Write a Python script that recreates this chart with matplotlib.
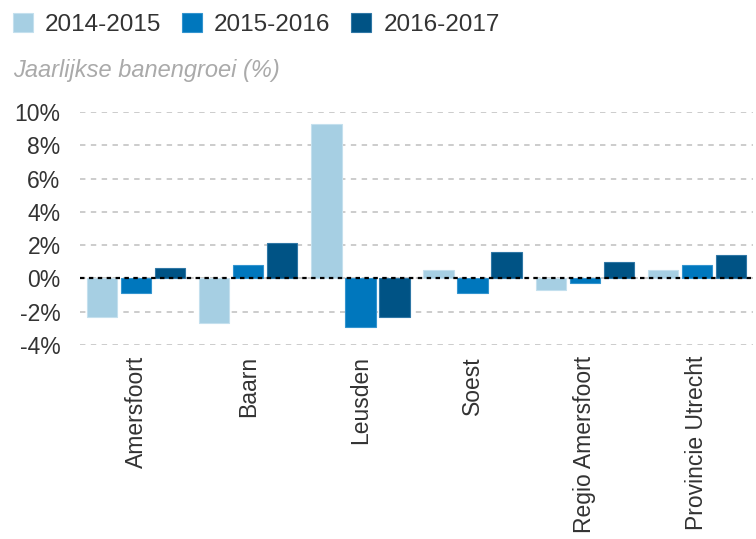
import matplotlib
matplotlib.use('Agg')
import matplotlib.pyplot as plt
import numpy as np
from matplotlib.ticker import FuncFormatter

plt.rcParams['font.family'] = ['Liberation Sans', 'DejaVu Sans']

# data (jaarlijkse banengroei in %)
regios = ['Amersfoort', 'Baarn', 'Leusden', 'Soest', 'Regio Amersfoort', 'Provincie Utrecht']
jaren = ['2014-2015', '2015-2016', '2016-2017']
groei_1415 = [-2.3, -2.7, 9.3, 0.5, -0.7, 0.5]
groei_1516 = [-0.9, 0.8, -2.9, -0.9, -0.3, 0.8]
groei_1617 = [0.6, 2.1, -2.3, 1.6, 1.0, 1.4]
kleuren = ['#a6cfe3', '#0077bd', '#005385']
randen = ['#c4e0ee', '#3394cf', '#2f77a5']

fig = plt.figure(figsize=(7.56, 5.39), dpi=100)
ax = fig.add_axes([80/756, 1 - 345/539, 673/756, 233/539])

x = np.arange(len(regios))
breedte = 0.27
stap = 0.303
for i, (serie, kleur, rand) in enumerate(zip([groei_1415, groei_1516, groei_1617], kleuren, randen)):
    ax.bar(x + (i - 1) * stap, serie, breedte, color=kleur, edgecolor=rand,
           linewidth=0.8, label=jaren[i], zorder=2)

ax.set_xlim(-0.5, len(regios) - 0.5)
ax.set_ylim(-4, 10)
ax.set_yticks(np.arange(-4, 11, 2))
ax.yaxis.set_major_formatter(FuncFormatter(lambda v, p: f'{v:.0f}%'))
ax.set_xticks(x)
ax.set_xticklabels(regios, rotation=90, ha='center', va='top')
ax.tick_params(axis='both', length=0, colors='#333333')
ax.tick_params(axis='y', pad=14, labelsize=16.5)
ax.tick_params(axis='x', pad=8, labelsize=16.5)

ax.grid(axis='y', color='#c8c8c8', linestyle=(0, (3, 3)), linewidth=1.3, zorder=0)
ax.axhline(0, color='black', linestyle=(0, (2, 2)), linewidth=1.6, zorder=3)
for s in ax.spines.values():
    s.set_visible(False)

fig.legend(loc='upper left', bbox_to_anchor=(13/756, 1 - 13/539), ncol=3, frameon=False,
           fontsize=17.5, handlelength=0.82, handleheight=0.82, handletextpad=0.5,
           columnspacing=0.85, borderpad=0, borderaxespad=0, labelcolor='#333333')

fig.text(13/756, 1 - 70/539, 'Jaarlijkse banengroei (%)', fontsize=17, style='italic',
         color='#aaaaaa', ha='left', va='center')

fig.savefig('out.png', dpi=100)
